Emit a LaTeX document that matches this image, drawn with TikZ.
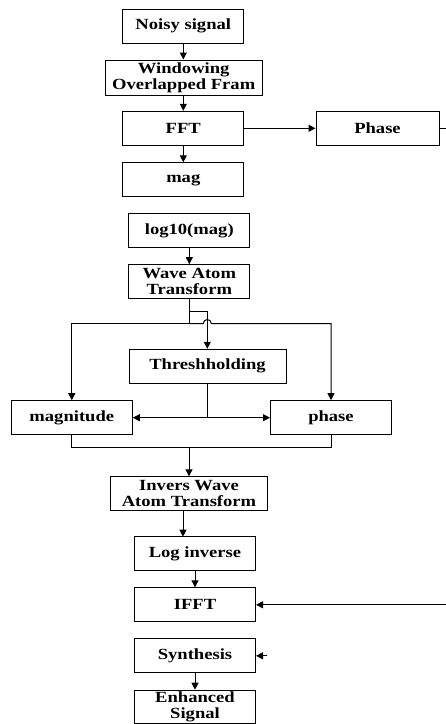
\documentclass[tikz,border=0pt]{standalone}
\usepackage{fontspec}
\setmainfont{Liberation Serif}[FakeStretch=1.2]
\usetikzlibrary{arrows.meta}
\begin{document}
\begin{tikzpicture}[x=1pt,y=-1pt,
  box/.style={draw,line width=1pt,rectangle,inner sep=0pt,align=center,
    font=\fontsize{15.5}{16}\selectfont\bfseries,minimum height=34pt},
  w121/.style={minimum width=121pt},
  w157/.style={minimum width=157pt},
  link/.style={line width=1pt},
  arr/.style={link,-{Triangle[length=7pt,width=7pt]}}]
\useasboundingbox (0,0) rectangle (446,724);

% processing blocks
\node[box,w121] (noisy) at (183.3,26.3) {Noisy signal};
\node[box,w157,minimum height=35pt] (win) at (183.7,77.5) {Windowing\\Overlapped Fram};
\node[box,w121] (fft) at (183.3,128.3) {FFT};
\node[box,minimum width=123pt] (phasein) at (377.5,128.3) {Phase};
\node[box,w121] (mag) at (183.3,179.8) {mag};
\node[box,w121] (logmag) at (189.3,230.5) {log10(mag)};
\node[box,w121] (wat) at (189.3,281.7) {Wave Atom\\Transform};
\node[box,w157] (thr) at (207.5,366.3) {Threshholding};
\node[box,w121] (magn) at (71.8,417.7) {magnitude};
\node[box,w121] (phs) at (331,417.7) {phase};
\node[box,w157] (iwat) at (189,493.8) {Invers Wave\\Atom Transform};
\node[box,w121] (loginv) at (195,553.7) {Log inverse};
\node[box,w121] (ifft) at (195,604.8) {IFFT};
\node[box,w121] (synth) at (195,655.8) {Synthesis};
\node[box,w121,minimum height=33pt] (enh) at (195,706.7) {Enhanced\\Signal};

% free ends of the connectors
\coordinate (phaseout) at (446,128.3);
\coordinate (phaseback) at (446,604.8);
\coordinate (synthin) at (266.7,655.8);
\coordinate (split) at (189,323.5);
\coordinate (tap) at (189,311);
\coordinate (thrsplit) at (207.3,417.7);
\coordinate (merge) at (189,447.3);

% upper chain
\draw[arr] (noisy.south) -- (noisy.south |- win.north);
\draw[arr] (noisy.south |- win.south) -- (noisy.south |- fft.north);
\draw[arr] (fft.south) -- (mag.north);
\draw[arr] (fft.east) -- (phasein.west);
\draw[link] (phasein.east) -- (phaseout);
\draw[arr] (logmag.south) -- (logmag.south |- wat.north);

% split into magnitude and phase
\draw[link] (wat.south -| split) -- (split);
\draw[arr] (split) -- (split -| magn.north) -- (magn.north);
\draw[arr] (split) -- (203.3,323.5) arc[start angle=180,end angle=0,radius=4pt]
  -- (split -| phs.north) -- (phs.north);
\draw[arr] (tap) -- (207.3,311) -- (207.3,311 |- thr.north);
\draw[link] (thrsplit |- thr.south) -- (thrsplit);
\draw[arr] (thrsplit) -- (magn.east);
\draw[arr] (thrsplit) -- (phs.west);

% recombination
\draw[link] (magn.south) -- (magn.south |- merge) -- (merge -| phs.south) -- (phs.south);
\draw[arr] (merge) -- (merge |- iwat.north);

% lower chain
\draw[arr] (183,511) -- (183,536.7);
\draw[arr] (loginv.south) -- (ifft.north);
\draw[arr] (phaseback) -- (ifft.east);
\draw[arr] (synthin) -- (synth.east);
\draw[arr] (synth.south) -- (enh.north);
\end{tikzpicture}
\end{document}
